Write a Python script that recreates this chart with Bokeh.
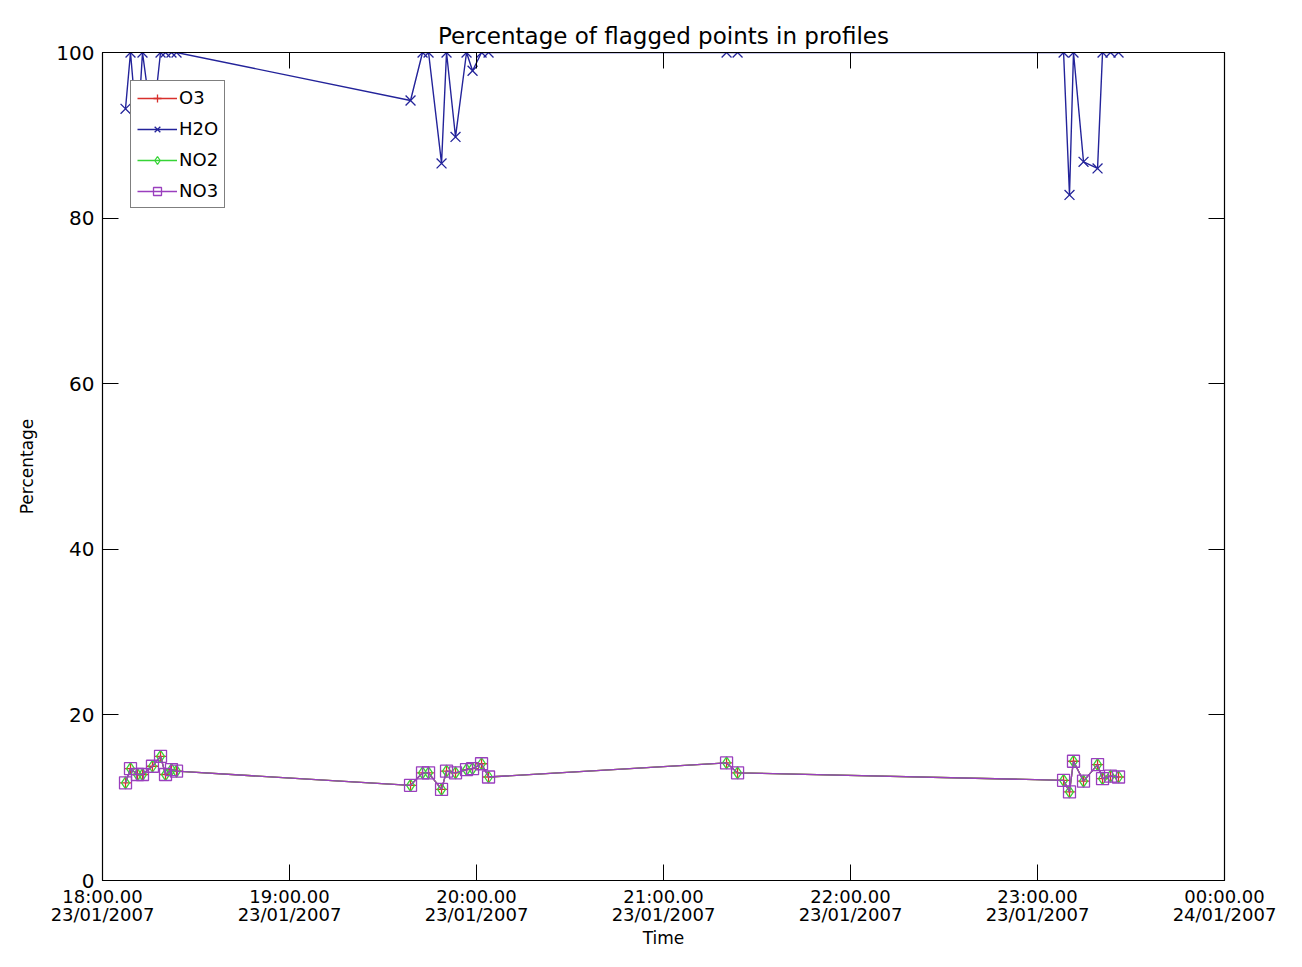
from bokeh.plotting import figure
from bokeh.models import Range1d, LinearAxis, FixedTicker, Legend, LegendItem
from bokeh.embed import file_html
from bokeh.resources import INLINE

# ---- data ----
times = ["18:07:23", "18:08:59", "18:11:14", "18:12:50", "18:16:02", "18:18:37", "18:20:13", "18:22:08", "18:23:45",
         "19:38:50", "19:42:41", "19:44:37", "19:48:47", "19:50:23", "19:53:16", "19:56:48", "19:58:44", "20:01:37", "20:03:52",
         "21:20:14", "21:23:46",
         "23:08:22", "23:10:16", "23:11:33", "23:14:46", "23:19:16", "23:20:52", "23:23:26", "23:26:00"]

h2o = [93.2, 100, 90.0, 100, 91.0, 100, 100, 100, 100,
       94.2, 100, 100, 86.6, 100, 89.8, 100, 97.8, 100, 100,
       100, 100,
       100, 82.8, 100, 86.8, 86.0, 100, 100, 100]

o3 = [11.8, 13.5, 12.8, 12.8, 13.8, 15.0, 12.8, 13.4, 13.2,
      11.5, 13.0, 13.0, 11.0, 13.2, 13.0, 13.4, 13.5, 14.1, 12.5,
      14.2, 13.0,
      12.1, 10.7, 14.4, 12.0, 14.0, 12.3, 12.6, 12.5]

no2 = [11.8, 13.5, 12.8, 12.8, 13.8, 15.0, 12.8, 13.4, 13.2,
       11.5, 13.0, 13.0, 11.0, 13.2, 13.0, 13.4, 13.5, 14.1, 12.5,
       14.2, 13.0,
       12.1, 10.7, 14.4, 12.0, 14.0, 12.3, 12.6, 12.5]

no3 = [11.8, 13.5, 12.8, 12.8, 13.8, 15.0, 12.8, 13.4, 13.2,
       11.5, 13.0, 13.0, 11.0, 13.2, 13.0, 13.4, 13.5, 14.1, 12.5,
       14.2, 13.0,
       12.1, 10.7, 14.4, 12.0, 14.0, 12.3, 12.6, 12.5]

x_ticks = [18, 19, 20, 21, 22, 23, 24]
x_tick_labels = ["18:00.00\n23/01/2007", "19:00.00\n23/01/2007", "20:00.00\n23/01/2007",
                 "21:00.00\n23/01/2007", "22:00.00\n23/01/2007", "23:00.00\n23/01/2007",
                 "00:00.00\n24/01/2007"]
y_ticks = [0, 20, 40, 60, 80, 100]


def to_hours(t):
    h, m, s = (int(v) for v in t.split(":"))
    return h + m / 60 + s / 3600


x = [to_hours(t) for t in times]

FONT = "DejaVu Sans"

p = figure(width=1286, height=951, output_backend="svg", toolbar_location=None,
           x_range=Range1d(18, 24), y_range=Range1d(0, 100),
           min_border_left=102, min_border_right=62, min_border_top=52, min_border_bottom=60,
           title="Percentage of flagged points in profiles",
           background_fill_color="white", border_fill_color="white")

p.title.align = "center"
p.title.text_font = FONT
p.title.text_font_size = "23px"
p.title.text_font_style = "normal"
p.title.text_color = "black"
p.title.offset = 0
p.title.standoff = 8

p.xgrid.visible = False
p.ygrid.visible = False
p.outline_line_color = "black"
p.outline_line_width = 1.2

# bottom axis
xa = p.xaxis[0]
xa.ticker = FixedTicker(ticks=x_ticks)
xa.major_label_overrides = dict(zip(x_ticks, x_tick_labels))
xa.axis_label = "Time"
# left axis
ya = p.yaxis[0]
ya.ticker = FixedTicker(ticks=y_ticks)
ya.axis_label = "Percentage"

for ax in (xa, ya):
    ax.major_tick_in = 16
    ax.major_tick_out = 0
    ax.minor_tick_in = 0
    ax.minor_tick_out = 0
    ax.axis_line_color = "black"
    ax.major_tick_line_color = "black"
    ax.major_label_text_font = FONT
    ax.major_label_text_font_size = "20px"
    ax.major_label_text_color = "black"
    ax.axis_label_text_font = FONT
    ax.axis_label_text_font_size = "17px"
    ax.axis_label_text_font_style = "normal"
    ax.axis_label_text_color = "black"

xa.major_label_text_font_size = "18px"
xa.major_label_text_line_height = 0.9
xa.major_label_standoff = 5
xa.axis_label_standoff = 0
xa.axis_label_text_line_height = 1.0
ya.major_label_standoff = 8
ya.axis_label_standoff = 16

# top and right axes: ticks only
top = LinearAxis(ticker=FixedTicker(ticks=x_ticks),
                 major_label_overrides={t: "" for t in x_ticks})
right = LinearAxis(ticker=FixedTicker(ticks=y_ticks),
                   major_label_overrides={t: "" for t in y_ticks})
for ax in (top, right):
    ax.major_tick_in = 16
    ax.major_tick_out = 0
    ax.minor_tick_in = 0
    ax.minor_tick_out = 0
    ax.axis_line_color = "black"
    ax.major_tick_line_color = "black"
    ax.major_label_text_font_size = "0px"
    ax.major_label_standoff = 0
p.add_layout(top, "above")
p.add_layout(right, "right")

# ---- series ----
C_O3 = "#d8302c"
C_H2O = "#23239a"
C_NO2 = "#36d436"
C_NO3 = "#9a3fbe"

l_o3 = p.line(x, o3, line_color=C_O3, line_width=1.3)
m_o3 = p.scatter(x, o3, marker="cross", size=12, line_color=C_O3, line_width=1.3)

l_h2o = p.line(x, h2o, line_color=C_H2O, line_width=1.4)
m_h2o = p.scatter(x, h2o, marker="x", size=14, line_color=C_H2O, line_width=1.3)

l_no2 = p.line(x, no2, line_color=C_NO2, line_width=1.3)
m_no2 = p.scatter(x, no2, marker="diamond", size=12, line_color=C_NO2, fill_color=None, line_width=1.3)

l_no3 = p.line(x, no3, line_color=C_NO3, line_width=1.3)
m_no3 = p.scatter(x, no3, marker="square", size=12, line_color=C_NO3, fill_color=None, line_width=1.3)

legend = Legend(items=[
    LegendItem(label="O3", renderers=[l_o3, m_o3]),
    LegendItem(label="H2O", renderers=[l_h2o, m_h2o]),
    LegendItem(label="NO2", renderers=[l_no2, m_no2]),
    LegendItem(label="NO3", renderers=[l_no3, m_no3]),
], location="top_left")
legend.margin = 28
legend.padding = 6
legend.spacing = 10
legend.glyph_width = 40
legend.glyph_height = 20
legend.label_standoff = 2
legend.label_text_font = FONT
legend.label_text_font_size = "18px"
legend.label_text_color = "black"
legend.border_line_color = "black"
legend.border_line_width = 1.2
legend.background_fill_color = "white"
legend.background_fill_alpha = 1.0
p.add_layout(legend, "center")

open("out.html", "w").write(file_html(p, INLINE))
